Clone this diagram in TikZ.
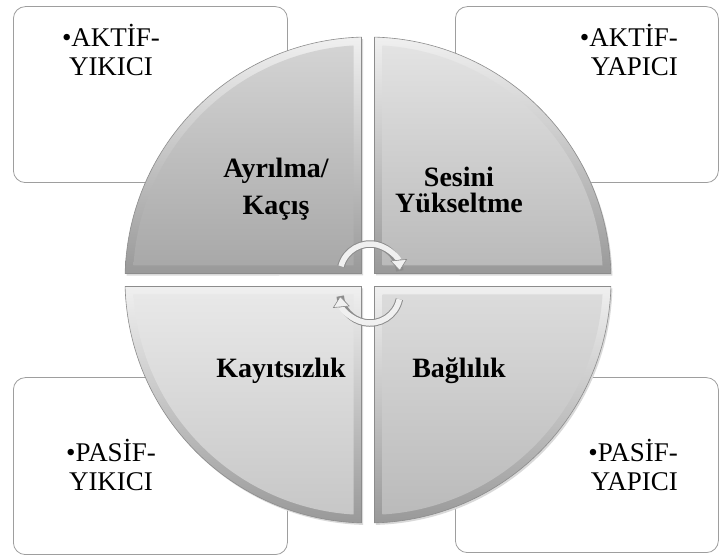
\documentclass[tikz,border=0pt]{standalone}
\usepackage{fontspec}
\setmainfont{Liberation Serif}
\usepackage{tikz}
\usetikzlibrary{positioning}
\usetikzlibrary{calc}
\usetikzlibrary{arrows.meta}
\definecolor{boxline}{gray}{0.62}
\definecolor{tubefill}{gray}{0.94}
\definecolor{tubeline}{gray}{0.55}

\tikzset{
 sidebox/.style={draw=boxline, line width=0.8pt, fill=white, rounded corners=12pt,
   minimum width=274pt, minimum height=176pt, anchor=south west, inner sep=0pt},
 sidetext/.style={font=\fontsize{27}{29}\selectfont, inner sep=0pt},
 quadlabel/.style={font=\bfseries\fontsize{28}{26}\selectfont, inner sep=0pt, align=center},
 quadrim/.style={draw=black!45, line width=0.6pt, top color=black!6, bottom color=black!40},
 cyclearrow/.style={line width=5.5pt, draw=tubefill,
   -{Triangle[length=11pt, width=17pt, fill=tubefill, color=tubeline, line width=0.6pt]},
   preaction={draw=tubeline, line width=7.5pt, -}}
}

\begin{document}
\begin{tikzpicture}[x=1pt, y=1pt]
\useasboundingbox (0,0) rectangle (720,556);
% side boxes
\node[sidebox] (tlbox) at (13,373) {};
\node[sidebox, minimum width=263pt] (trbox) at (455,373) {};
\node[sidebox, minimum height=177pt] (blbox) at (13,1) {};
\node[sidebox, minimum width=263pt, minimum height=175pt] (brbox) at (455,3) {};
\node[sidetext, align=center, anchor=base] (tltext) at (111,480) {•AKTİF-\\YIKICI};
\node[sidetext, align=right, anchor=base east] (trtext) at (678,480) {•AKTİF-\\YAPICI};
\node[sidetext, align=center, anchor=base] (bltext) at (111,65) {•PASİF-\\YIKICI};
\node[sidetext, align=right, anchor=base east] (brtext) at (678,65) {•PASİF-\\YAPICI};
% circle of four quadrants
\coordinate (C) at (368,276);
\foreach \b/\ta/\tb in {90/17/34, 0/11/27, 180/9/22, 270/14/27} {
 \path[quadrim, preaction={fill=black!15, transform canvas={shift={(1.5pt,-2pt)}}}]
   ($(C)+(\b+45:9.19pt)$) -- ($(C)+(\b+1.53:243pt)$)
   arc[start angle=\b+1.53, end angle=\b+88.47, radius=243pt] -- cycle;
 \path[top color=black!\ta, bottom color=black!\tb]
   ($(C)+(\b+45:20.5pt)$) -- ($(C)+(\b+3.54:235pt)$)
   arc[start angle=\b+3.54, end angle=\b+86.46, radius=235pt] -- cycle;
}
\node[quadlabel, anchor=base, font=\bfseries\fontsize{28}{37}\selectfont] (ayrilma) at (276,341) {Ayrılma/\\Kaçış};
\node[quadlabel, anchor=base] (sesini) at (459,343) {Sesini\\Yükseltme};
\node[quadlabel, anchor=base] (kayitsiz) at (281,178) {Kayıtsızlık};
\node[quadlabel, anchor=base] (baglilik) at (459,178) {Bağlılık};
% cycle arrows
\coordinate (U) at (370,282);
\coordinate (L) at (370,263);
\draw[cyclearrow] ($(U)+(165:30pt)$) arc[start angle=165, end angle=6, radius=30pt];
\draw[cyclearrow] ($(L)+(-12:30pt)$) arc[start angle=-12, end angle=-174, radius=30pt];
\end{tikzpicture}
\end{document}
